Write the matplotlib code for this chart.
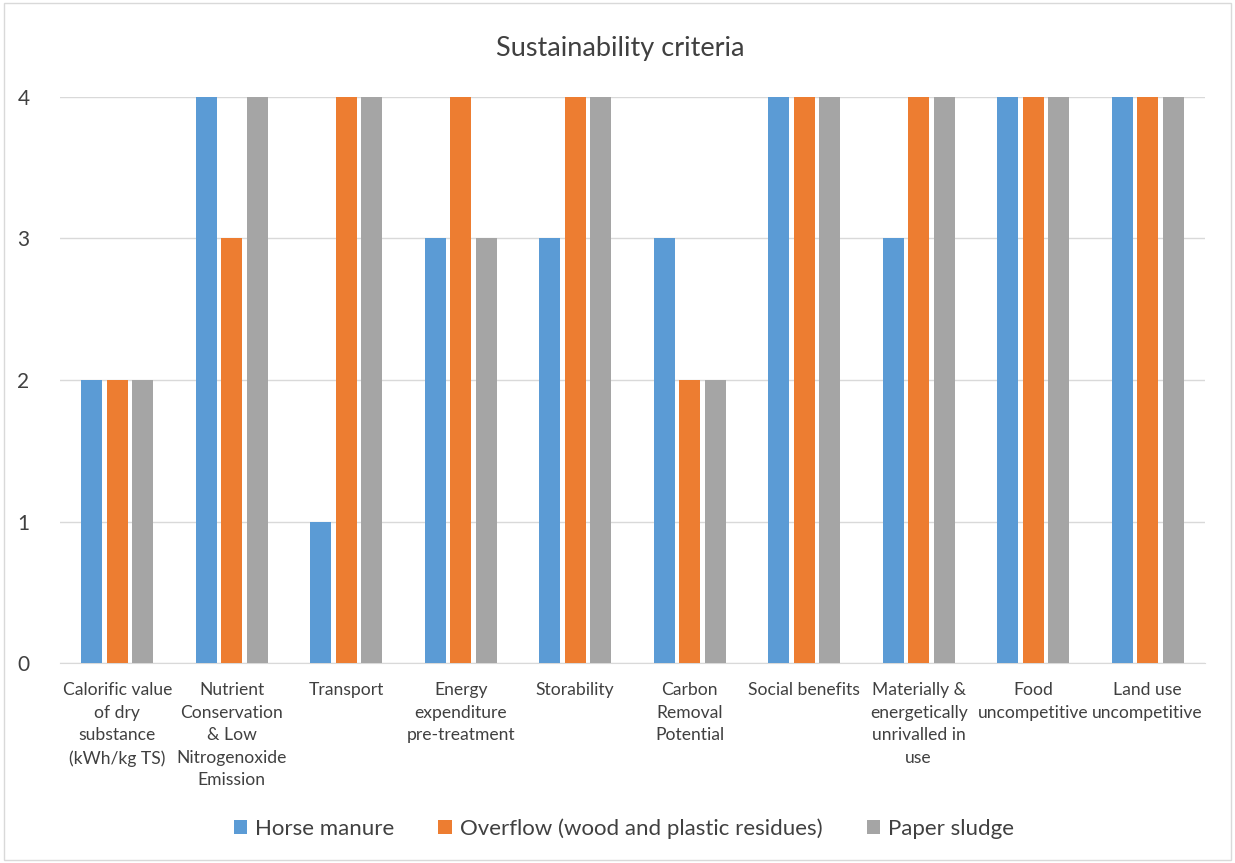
import matplotlib.pyplot as plt
import numpy as np

# ---- data ----
categories = [
    "Calorific value\nof dry\nsubstance\n(kWh/kg TS)",
    "Nutrient\nConservation\n& Low\nNitrogenoxide\nEmission",
    "Transport",
    "Energy\nexpenditure\npre-treatment",
    "Storability",
    "Carbon\nRemoval\nPotential",
    "Social benefits",
    "Materially &\nenergetically\nunrivalled in\nuse",
    "Food\nuncompetitive",
    "Land use\nuncompetitive",
]
horse_manure = [2, 4, 1, 3, 3, 3, 4, 3, 4, 4]
overflow = [2, 3, 4, 4, 4, 2, 4, 4, 4, 4]
paper_sludge = [2, 4, 4, 3, 4, 2, 4, 4, 4, 4]
series_names = ["Horse manure", "Overflow (wood and plastic residues)", "Paper sludge"]
colors = ["#5B9BD5", "#ED7D31", "#A5A5A5"]

plt.rcParams["font.family"] = ["Lato", "DejaVu Sans"]

fig = plt.figure(figsize=(12.35, 8.63), dpi=100)
ax = fig.add_axes([0.0486, 0.2317, 0.927, 0.656])

x = np.arange(len(categories))
width = 0.183
offsets = [-0.222, 0, 0.222]
for vals, off, c, name in zip([horse_manure, overflow, paper_sludge], offsets, colors, series_names):
    ax.bar(x + off, vals, width, color=c, label=name, zorder=3)

ax.set_xlim(-0.5, len(categories) - 0.5)
ax.set_ylim(0, 4)
ax.set_yticks([0, 1, 2, 3, 4])
ax.yaxis.grid(True, color="#D9D9D9", linewidth=1, zorder=0)
ax.set_xticks(x)
ax.set_xticklabels(categories, fontsize=12.6, color="#404040", linespacing=1.5, va="top")
ax.tick_params(axis="x", length=0, pad=14)
ax.tick_params(axis="y", length=0, pad=22, labelsize=15, labelcolor="#404040")
for s in ["top", "right", "left"]:
    ax.spines[s].set_visible(False)
ax.spines["bottom"].set_color("#D9D9D9")

fig.text(0.502, 0.944, "Sustainability criteria", ha="center", va="center",
         fontsize=19.5, color="#404040")

leg = fig.legend(loc="center", bbox_to_anchor=(0.505, 0.040), ncol=3, frameon=False,
                 fontsize=16, handlelength=0.6, handleheight=0.6, columnspacing=2.0,
                 handletextpad=0.35)
for t in leg.get_texts():
    t.set_color("#404040")

# outer chart border
fig.patches.append(plt.Rectangle((0.003, 0.003), 0.994, 0.994, transform=fig.transFigure,
                                 fill=False, edgecolor="#D9D9D9", linewidth=1))

fig.savefig("out.png", dpi=100)
